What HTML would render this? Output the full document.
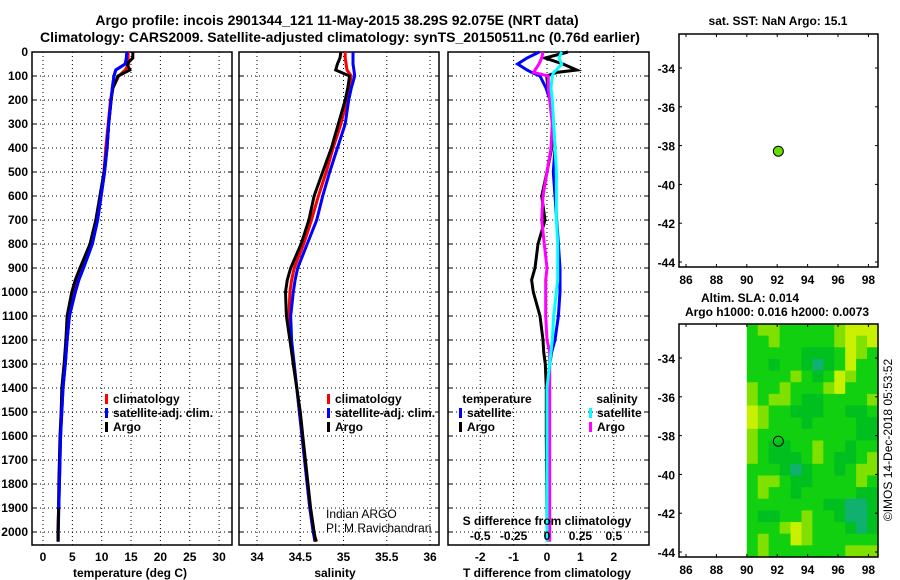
<!DOCTYPE html>
<html><head><meta charset="utf-8">
<style>
body{margin:0;background:#fff;}
svg{display:block;font-family:"Liberation Sans",Arial,sans-serif;}
.b{font-weight:bold;font-size:12px;}
.t{font-weight:bold;font-size:14px;}
</style></head>
<body>
<svg id="fig" width="900" height="580" viewBox="0 0 900 580" xmlns="http://www.w3.org/2000/svg">
<text class="t" x="337" y="25" text-anchor="middle">Argo profile: incois 2901344_121 11-May-2015 38.29S 92.075E (NRT data)</text>
<text class="t" x="340" y="42" text-anchor="middle">Climatology: CARS2009. Satellite-adjusted climatology: synTS_20150511.nc (0.76d earlier)</text>
<g id="layer"></g>
</svg>
<script>
// ---- data ----
const depths = [0,25,50,75,100,150,200,300,400,500,600,700,800,900,950,1000,1100,1200,1300,1400,1500,1600,1700,1800,1900,2000,2040];
const tempArgo = [15.3,15.3,14.3,14.8,12.8,11.9,11.6,11.2,10.9,10.4,9.7,9.0,8.0,6.3,5.5,4.9,4.1,3.9,3.6,3.2,3.1,2.9,2.8,2.7,2.65,2.55,2.55];
const tempClim = [14.5,14.5,14.6,14.0,12.9,11.9,11.5,11.1,10.7,10.4,9.8,9.1,8.2,6.6,5.8,5.2,4.3,4.0,3.7,3.3,3.1,2.95,2.85,2.75,2.65,2.55,2.55];
const tempSat = [14.3,14.2,14.0,12.4,12.1,11.8,11.6,11.2,10.9,10.5,9.9,9.3,8.4,6.9,6.1,5.5,4.5,4.1,3.8,3.4,3.2,3.0,2.9,2.8,2.7,2.6,2.6];
const salArgo = [34.97,34.96,34.93,34.91,35.07,35.05,35.02,34.94,34.86,34.76,34.66,34.60,34.51,34.39,34.35,34.33,34.34,34.38,34.42,34.46,34.50,34.53,34.56,34.59,34.62,34.66,34.68];
const salClim = [35.02,35.02,35.03,35.04,35.09,35.06,35.04,34.97,34.88,34.80,34.71,34.63,34.54,34.43,34.40,34.38,34.37,34.39,34.42,34.46,34.49,34.52,34.55,34.58,34.61,34.65,34.69];
const salSat = [35.11,35.11,35.11,35.12,35.13,35.09,35.06,35.02,34.93,34.84,34.76,34.69,34.58,34.47,34.44,34.42,34.39,34.40,34.43,34.46,34.49,34.52,34.55,34.58,34.61,34.65,34.67];
const diffDepths = [0,25,50,75,85,100,150,200,300,400,500,600,700,800,900,950,1000,1100,1200,1250,1300,1400,1600,1800,2000,2040];
const dTSat  = [-0.23,-0.6,-0.88,-0.6,-0.46,-0.21,-0.03,0.09,0.19,0.24,0.19,0.24,0.29,0.34,0.39,0.39,0.39,0.34,0.24,0.14,0.08,0.05,0.05,0.04,0.04,0.04];
const dTArgo = [0.63,-0.06,0.48,0.89,0.3,-0.01,0.03,0.09,0.19,0.14,0.0,-0.16,-0.06,-0.27,-0.36,-0.46,-0.41,-0.21,-0.12,-0.1,-0.05,-0.02,-0.02,-0.01,0.0,0.0];
const dSSat  = [0.11,0.09,0.11,0.07,0.05,0.04,0.03,0.04,0.05,0.06,0.07,0.07,0.07,0.08,0.08,0.08,0.07,0.05,0.04,0.03,0.02,0.0,0.0,0.0,0.0,0.0];
const dSArgo = [-0.03,-0.04,-0.06,-0.09,-0.1,0.01,0.01,0.02,0.04,0.03,0.0,-0.03,-0.04,-0.02,0.0,-0.01,-0.01,-0.01,0.0,0.02,0.02,0.02,0.02,0.02,0.02,0.02];
const depthTicks = [0,100,200,300,400,500,600,700,800,900,1000,1100,1200,1300,1400,1500,1600,1700,1800,1900,2000];
const tempTicks = [0,5,10,15,20,25,30];
const salTicks = [34,34.5,35,35.5,36];
const dTTicks = [-2,-1,0,1,2];
const dSTicks = [-0.5,-0.25,0,0.25,0.5];
const lonTicks = [86,88,90,92,94,96,98];
const latTicks = [-34,-36,-38,-40,-42,-44];
const argoLon = 92.075, argoLat = -38.29;
// SLA map grid (rows north->south, cols 90E->98.7E), value class 0..4
const slaGrid = [
[2,3,3,2,2,2,2,2,3,4,4,4],[2,2,3,2,2,2,2,2,3,4,3,4],[2,2,2,2,2,1,1,1,2,4,3,2],[2,2,1,2,2,1,0,1,2,4,2,2],
[2,2,2,2,3,2,1,2,4,3,2,2],[3,2,2,3,2,2,2,3,4,2,2,2],[3,2,3,3,2,1,1,2,2,2,2,3],[4,3,2,2,1,1,1,2,2,1,1,2],
[4,3,2,2,2,1,2,2,2,2,1,1],[3,2,2,2,2,2,2,2,2,2,1,1],[3,2,1,1,2,2,3,2,2,1,2,2],[3,2,1,1,1,2,3,2,1,1,2,3],
[2,2,2,1,0,1,2,2,1,2,3,3],[2,3,3,2,1,1,2,2,2,2,3,2],[2,3,2,2,1,2,2,2,2,2,1,1],[2,2,2,2,2,2,2,1,1,0,0,1],
[2,1,1,2,2,3,2,2,1,0,0,1],[2,2,2,3,4,3,2,2,2,1,0,1],[2,3,2,2,4,3,2,2,2,2,2,2],[2,3,2,2,2,2,2,2,2,3,3,3]];
const slaColors = ["#10b070","#00c020","#10d010","#80e000","#c8f000"];

// ---- helpers ----
const NS="http://www.w3.org/2000/svg";
const layer=document.getElementById('layer');
function mk(tag,attrs,parent){const e=document.createElementNS(NS,tag);for(const k in attrs)e.setAttribute(k,attrs[k]);(parent||layer).appendChild(e);return e;}
function txt(x,y,s,cls,anchor,parent){const e=mk('text',{x:x,y:y,'text-anchor':anchor||'middle'},parent);if(cls)e.setAttribute('class',cls);e.textContent=s;return e;}

const Y0=52, Y1=545;
const yDepth=d=>Y0+d*0.24;
const xTemp=v=>43+v*5.87;
const xSal=v=>257+(v-34)*86.5;
const xDT=v=>547+v*33.4;
const xDS=v=>547+v*133.6;

function panel(name,x0,x1,gridXs){
  const g=mk('g',{});
  
  
  mk('rect',{x:x0,y:Y0,width:x1-x0,height:Y1-Y0,fill:'#fff'},g);
  depthTicks.forEach(d=>{
    const y=yDepth(d);
    const l=mk('line',{x1:x0,x2:x1,y1:y,y2:y,stroke:'#000','stroke-width':1,'stroke-dasharray':'1,3'},g);
    
    
    mk('line',{x1:x0,x2:x0+4,y1:y,y2:y,stroke:'#000'},g);
    mk('line',{x1:x1-4,x2:x1,y1:y,y2:y,stroke:'#000'},g);
  });
  gridXs.forEach(x=>{
    const l=mk('line',{x1:x,x2:x,y1:Y0,y2:Y1,stroke:'#000','stroke-width':1,'stroke-dasharray':'1,3'},g);
    
    
  });
  mk('rect',{x:x0,y:Y0,width:x1-x0,height:Y1-Y0,fill:'none',stroke:'#000','stroke-width':1.5},g);
  return g;
}
function series(g,xs,ys,xf,color,name){
  const pts=xs.map((v,i)=>xf(v).toFixed(1)+','+yDepth(ys[i]).toFixed(1)).join(' ');
  const p=mk('polyline',{points:pts,fill:'none',stroke:color,'stroke-width':3,'stroke-linejoin':'miter'},g);
  
  
}
function legendEntry(g,x,y,color,label,name){
  const e=mk('g',{},g);
  
  
  mk('rect',{x:x,y:y-5,width:3,height:10,fill:color},e);
  txt(x+8,y+4,label,'b','start',e);
}

// Panel 1: temperature
const p1=panel('temperature-panel',32,232,tempTicks.map(xTemp));
series(p1,tempClim,depths,xTemp,'#f00','temp-climatology-line');
series(p1,tempSat,depths,xTemp,'#00f','temp-satellite-line');
series(p1,tempArgo,depths,xTemp,'#000','temp-argo-line');
series(p1,tempSat.slice(0,25),depths.slice(0,25),xTemp,'#00f','temp-satellite-line-top');
depthTicks.forEach(d=>{const t=txt(28,yDepth(d)+4,String(d),'b','end');});
tempTicks.forEach(v=>{const t=txt(xTemp(v),561,String(v),'b');});
const xt1=txt(130,577,'temperature (deg C)','b');
legendEntry(p1,105,399,'#f00','climatology','legend-climatology');
legendEntry(p1,105,413,'#00f','satellite-adj. clim.','legend-satellite-adj');
legendEntry(p1,105,427,'#000','Argo','legend-argo');

// Panel 2: salinity
const p2=panel('salinity-panel',239,439,salTicks.map(xSal));
series(p2,salClim,depths,xSal,'#f00','sal-climatology-line');
series(p2,salSat,depths,xSal,'#00f','sal-satellite-line');
series(p2,salArgo,depths,xSal,'#000','sal-argo-line');
salTicks.forEach(v=>{const t=txt(xSal(v),561,String(v),'b');});
const xt2=txt(335,577,'salinity','b');
legendEntry(p2,327,399,'#f00','climatology','legend-climatology-2');
legendEntry(p2,327,413,'#00f','satellite-adj. clim.','legend-satellite-adj-2');
legendEntry(p2,327,427,'#000','Argo','legend-argo-2');
const ia=mk('g',{});


const c1=txt(326,518,'Indian ARGO',null,'start',ia);c1.setAttribute('font-size','12');
const c2=txt(326,532,'PI: M Ravichandran',null,'start',ia);c2.setAttribute('font-size','12');

// Panel 3: differences
const p3=panel('difference-panel',448,649,dTTicks.map(xDT));
series(p3,dTSat,diffDepths,xDT,'#00f','dT-satellite-line');
series(p3,dTArgo,diffDepths,xDT,'#000','dT-argo-line');
series(p3,dSArgo,diffDepths,xDS,'#f0f','dS-argo-line');
series(p3,dSSat,diffDepths,xDS,'#0ff','dS-satellite-line');
dTTicks.forEach(v=>{const t=txt(xDT(v),561,String(v),'b');});
const xt3=txt(547,577,'T difference from climatology','b');
const st=txt(547,525,'S difference from climatology','b');
dSTicks.forEach(v=>{const t=txt(xDS(v),540,String(v),'b');});
const lt=txt(497,403,'temperature','b');
const ls=txt(617,403,'salinity','b');
legendEntry(p3,459,413,'#00f','satellite','legend-dT-satellite');
legendEntry(p3,459,427,'#000','Argo','legend-dT-argo');
legendEntry(p3,589,413,'#0ff','satellite','legend-dS-satellite');
legendEntry(p3,589,427,'#f0f','Argo','legend-dS-argo');

// Maps
const xLon=v=>686+(v-86)*15.2;
function mapFrame(name,yTop,yBot,lat34){
  const yLat=v=>lat34+(-34-v)*19.4;
  const g=mk('g',{});
  
  
  return {g,yLat,yTop,yBot};
}
function mapAxes(m){
  const g=m.g;
  mk('rect',{x:679,y:m.yTop,width:199,height:m.yBot-m.yTop,fill:'none',stroke:'#000','stroke-width':1.5},g);
  lonTicks.forEach(v=>{
    const x=xLon(v);
    mk('line',{x1:x,x2:x,y1:m.yTop,y2:m.yTop+3,stroke:'#000'},g);
    mk('line',{x1:x,x2:x,y1:m.yBot-3,y2:m.yBot,stroke:'#000'},g);
    const t=txt(x,m.yBot+17,String(v),'b');
  });
  latTicks.forEach(v=>{
    const y=m.yLat(v);
    mk('line',{x1:679,x2:682,y1:y,y2:y,stroke:'#000'},g);
    mk('line',{x1:875,x2:878,y1:y,y2:y,stroke:'#000'},g);
    const t=txt(675,y+5,String(v),'b','end');
  });
}
const m1=mapFrame('sst-map',34,267,68);
mk('rect',{x:679,y:34,width:199,height:233,fill:'#fff'},m1.g);
mapAxes(m1);
const dot=mk('circle',{cx:xLon(argoLon),cy:m1.yLat(argoLat),r:5,fill:'#66dd00',stroke:'#000','stroke-width':1},m1.g);


const mt1=txt(778,25,'sat. SST: NaN Argo: 15.1','b');

const m2=mapFrame('sla-map',324,557,358);
const cellW=(878-xLon(90))/slaGrid[0].length, cellH=(557-324)/slaGrid.length;
slaGrid.forEach((row,r)=>row.forEach((v,c)=>{
  const cell=mk('rect',{x:(xLon(90)+c*cellW).toFixed(2),y:(324+r*cellH).toFixed(2),width:(cellW+0.6).toFixed(2),height:(cellH+0.6).toFixed(2),fill:slaColors[v]},m2.g);
  
  
}));
mapAxes(m2);
const ring=mk('circle',{cx:xLon(argoLon),cy:m2.yLat(argoLat),r:5,fill:'none',stroke:'#000','stroke-width':1},m2.g);


const mt2=txt(750,302,'Altim. SLA: 0.014','b');
const mt3=txt(777,316,'Argo h1000: 0.016 h2000: 0.0073','b');
const cr=txt(0,0,'©IMOS 14-Dec-2018 05:53:52',null,'middle');
cr.setAttribute('transform','translate(892,440) rotate(-90)');
cr.setAttribute('font-size','12');


</script>
</body></html>
